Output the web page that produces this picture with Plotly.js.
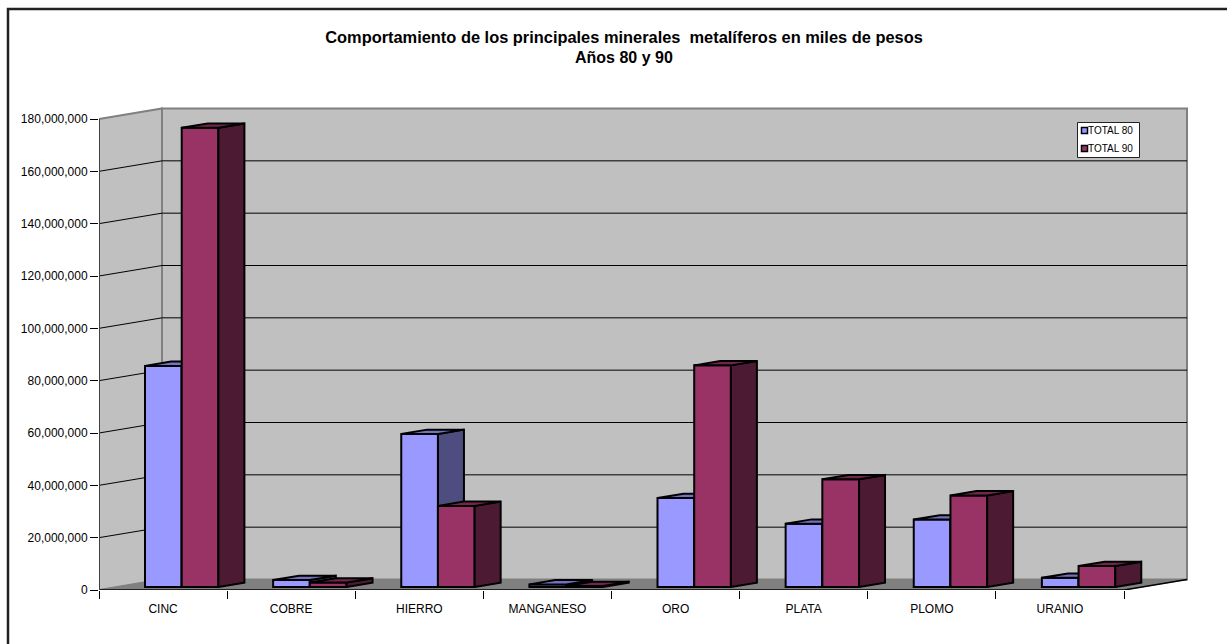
<!DOCTYPE html>
<html><head><meta charset="utf-8">
<script src="https://cdn.plot.ly/plotly-3.0.1.min.js"></script>
<style>html,body{margin:0;padding:0;background:#fff}#c{width:1227px;height:644px}</style>
</head><body><div id="c"></div>
<script>
const categories = ['CINC','COBRE','HIERRO','MANGANESO','ORO','PLATA','PLOMO','URANIO'];
const total80 = [84500000,2700000,58500000,1000000,34000000,24200000,25800000,3500000];
const total90 = [175500000,1700000,31000000,400000,84700000,41200000,35000000,8000000];
const yTicks = [0,20000000,40000000,60000000,80000000,100000000,120000000,140000000,160000000,180000000];

// geometry of the pseudo-3D box, in axis units
const PX_X = 128.125, PX_Y = 471/180000000;
const L=99, R=1190, T=105, B=590, W=1227, H=644;
const xMax=(R-L)/PX_X, yMax=(B-T)/PX_Y;
const wallDx=63/PX_X, wallDy=10.5/PX_Y;
const barDx=26/PX_X, barDy=4.3/PX_Y;
const baseY=3/PX_Y;
const barW=36.7/PX_X, x1=(46+18.35)/PX_X, x2=x1+barW;
const n=categories.length, yTop=yTicks[yTicks.length-1];

function pathOf(pts,close){return 'M'+pts.map(p=>p[0]+','+p[1]).join('L')+(close?'Z':'');}

function faces(vals,cx,sideColor,topColor,xa,ya,name){
  const sx=[],sy=[],tx=[],ty=[];
  vals.forEach((v,i)=>{
    const l=i+cx-barW/2,r=i+cx+barW/2,t=baseY+v;
    [[r,baseY],[r,t],[r+barDx,t+barDy],[r+barDx,baseY+barDy],[r,baseY]].forEach(p=>{sx.push(p[0]);sy.push(p[1]);});
    sx.push(null);sy.push(null);
    [[l,t],[r,t],[r+barDx,t+barDy],[l+barDx,t+barDy],[l,t]].forEach(p=>{tx.push(p[0]);ty.push(p[1]);});
    tx.push(null);ty.push(null);
  });
  const common={type:'scatter',mode:'lines',fill:'toself',showlegend:false,hoverinfo:'skip',xaxis:xa,yaxis:ya,line:{color:'#000',width:2}};
  return [Object.assign({},common,{x:sx,y:sy,fillcolor:sideColor,name:name+' lado'}),
          Object.assign({},common,{x:tx,y:ty,fillcolor:topColor,name:name+' techo'})];
}
function bar(vals,cx,color,xa,ya,name){
  return {type:'bar',name:name,x:vals.map((v,i)=>i+cx),y:vals,base:vals.map(()=>baseY),width:barW,
    marker:{color:color,line:{color:'#000',width:2}},xaxis:xa,yaxis:ya,showlegend:false};
}
const traces=[
  bar(total80,x1,'#9999ff','x','y','TOTAL 80'),
  ...faces(total80,x1,'#4d4d80','#7272bf','x','y','TOTAL 80'),
  bar(total90,x2,'#993366','x2','y2','TOTAL 90'),
  ...faces(total90,x2,'#4d1a33','#73264d','x2','y2','TOTAL 90')
];

const shapes=[];
const s=(o)=>shapes.push(Object.assign({xref:'x',yref:'y',layer:'below'},o));
s({type:'path',path:pathOf([[0,0],[wallDx,wallDy],[wallDx,yTop+wallDy],[0,yTop]],true),fillcolor:'#c0c0c0',line:{color:'#808080',width:2}});
s({type:'path',path:pathOf([[wallDx,wallDy],[wallDx+n,wallDy],[wallDx+n,yTop+wallDy],[wallDx,yTop+wallDy]],true),fillcolor:'#c0c0c0',line:{color:'#808080',width:2}});
s({type:'path',path:pathOf([[0,0],[n,0],[n+wallDx,wallDy],[wallDx,wallDy]],true),fillcolor:'#808080',line:{color:'#808080',width:1}});
yTicks.slice(1,-1).forEach(v=>s({type:'path',path:pathOf([[0,v],[wallDx,v+wallDy],[wallDx+n,v+wallDy]],false),line:{color:'#000',width:1}}));
s({type:'path',path:pathOf([[0,0],[n,0],[n+wallDx,wallDy]],false),line:{color:'#000',width:1.5}});
s({type:'line',x0:0,x1:0,y0:0,y1:yTop,line:{color:'#404040',width:2}});

// page-frame and legend box, placed in paper fractions
const px=(x)=>(x-L)/(R-L), py=(y)=>(B-y)/(B-T);
const p=(o)=>shapes.push(Object.assign({xref:'paper',yref:'paper',layer:'above'},o));
p({type:'path',path:'M'+px(8)+','+py(H)+'L'+px(8)+','+py(9)+'L'+px(W)+','+py(9),line:{color:'#222',width:2.5},layer:'below'});
p({type:'rect',x0:px(1077.5),x1:px(1139.5),y0:py(122.5),y1:py(157.5),fillcolor:'#fff',line:{color:'#222',width:1}});
const legendNames=['TOTAL 80','TOTAL 90'], legendColors=['#9999ff','#993366'], legendY=[130.5,148.5];
legendNames.forEach((nm,i)=>p({type:'rect',x0:px(1081.5),x1:px(1087.5),y0:py(legendY[i]-3),y1:py(legendY[i]+3),fillcolor:legendColors[i],line:{color:'#000',width:1.5}}));

const font='"Liberation Sans",Arial,sans-serif';
const annotations=legendNames.map((nm,i)=>({xref:'paper',yref:'paper',x:px(1088),y:py(legendY[i]),xanchor:'left',yanchor:'middle',showarrow:false,text:nm,font:{family:font,size:10,color:'#000'},borderpad:0,borderwidth:0}));
annotations.push({xref:'paper',yref:'paper',x:px(624),y:py(58),xanchor:'center',yanchor:'middle',showarrow:false,text:'<b>Años 80 y 90</b>',font:{family:font,size:16,color:'#000'}});

const layout={
  width:W,height:H,autosize:false,showlegend:false,
  paper_bgcolor:'#fff',plot_bgcolor:'rgba(0,0,0,0)',
  margin:{l:L,r:W-R,t:T,b:H-B,pad:0},
  font:{family:font,color:'#000',size:11},
  barmode:'overlay',
  title:{text:'<b>Comportamiento de los principales minerales  metalíferos en miles de pesos</b>',font:{family:font,size:16.4,color:'#000'},x:624/W,xanchor:'center',y:1-37/H,yanchor:'middle',xref:'container',yref:'container'},
  xaxis:{range:[0,xMax],showgrid:false,zeroline:false,showline:false,tickmode:'array',tickvals:categories.map((c,i)=>i+0.5),ticktext:categories,ticks:'outside',ticklen:8,tickcolor:'rgba(0,0,0,0)',tickfont:{family:font,size:12,color:'#000'},
    minor:{tickmode:'array',tickvals:Array.from({length:n+1},(_,i)=>i),ticks:'outside',ticklen:8,tickwidth:1,tickcolor:'#000',showgrid:false}},
  yaxis:{range:[0,yMax],showgrid:false,zeroline:false,showline:false,tickmode:'array',tickvals:yTicks,tickformat:',d',ticks:'outside',ticklen:8,tickwidth:1,tickcolor:'#000',tickfont:{family:font,size:12,color:'#000'}},
  xaxis2:{range:[0,xMax],overlaying:'x',visible:false},
  yaxis2:{range:[0,yMax],overlaying:'y',visible:false},
  shapes:shapes,annotations:annotations
};
Plotly.newPlot('c',traces,layout,{displayModeBar:false,staticPlot:true});
</script></body></html>
